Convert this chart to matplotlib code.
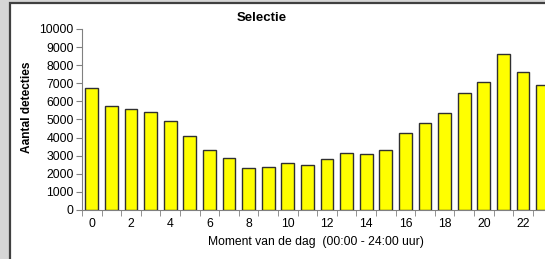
import matplotlib.pyplot as plt
import matplotlib.patches as mpatches
import numpy as np

plt.rcParams['font.family'] = ['Liberation Sans', 'DejaVu Sans']

hours = list(range(24))
counts = [6720, 5750, 5570, 5430, 4920, 4100, 3310, 2850, 2340, 2400,
          2600, 2470, 2800, 3170, 3110, 3310, 4270, 4790, 5370, 6480,
          7070, 8620, 7640, 6920]
yticks = list(range(0, 10001, 1000))
xlabels = [str(h) for h in range(0, 24, 2)]

W, H = 545, 259
fig = plt.figure(figsize=(W / 100, H / 100), dpi=100)
fig.patch.set_facecolor('#d6d6d6')

# chart area frame (Excel style, cut off on the right)
frame = mpatches.Rectangle((9.5 / W, -0.1), 2.0, 1 - 3 / H + 0.1,
                           transform=fig.transFigure, facecolor='white',
                           edgecolor='#404040', linewidth=1.6, zorder=-5)
fig.patches.append(frame)

ax = fig.add_axes([82 / W, 49 / H, 470.4 / W, 181 / H])
ax.set_zorder(2)
ax.set_facecolor('white')
ax.bar(hours, counts, width=0.66, color='#ffff00', edgecolor='#303030',
       linewidth=1.0, zorder=3)

ax.set_xlim(-0.5, 23.5)
ax.set_ylim(0, 10000)
ax.set_yticks(yticks)
ax.set_xticks(range(0, 24, 2))
ax.set_xticklabels(xlabels)
ax.set_xticks(np.arange(-0.5, 24, 1), minor=True)
ax.tick_params(axis='x', which='major', length=0, pad=6, labelsize=8.8)
ax.tick_params(axis='x', which='minor', length=4, color='#808080')
ax.tick_params(axis='y', length=4, color='#808080', labelsize=8.8, pad=2)

for s in ['top', 'right']:
    ax.spines[s].set_visible(False)
for s in ['left', 'bottom']:
    ax.spines[s].set_color('#808080')

fig.text(262 / W, 1 - 18 / H, 'Selectie', fontsize=9.5, fontweight='bold',
         ha='center', va='center', zorder=5)
ax.set_ylabel('Aantal detecties', fontsize=8.6, fontweight='bold')
ax.set_xlabel('Moment van de dag  (00:00 - 24:00 uur)', fontsize=8.7)
ax.xaxis.set_label_coords((316 - 82) / 470.4, -(242 - 210) / 181)
ax.yaxis.set_label_coords(-(82 - 27) / 470.4, (210 - 107) / 181)
ax.xaxis.label.set_va('center')
ax.yaxis.label.set_va('center')

fig.savefig('out.png', dpi=100)
